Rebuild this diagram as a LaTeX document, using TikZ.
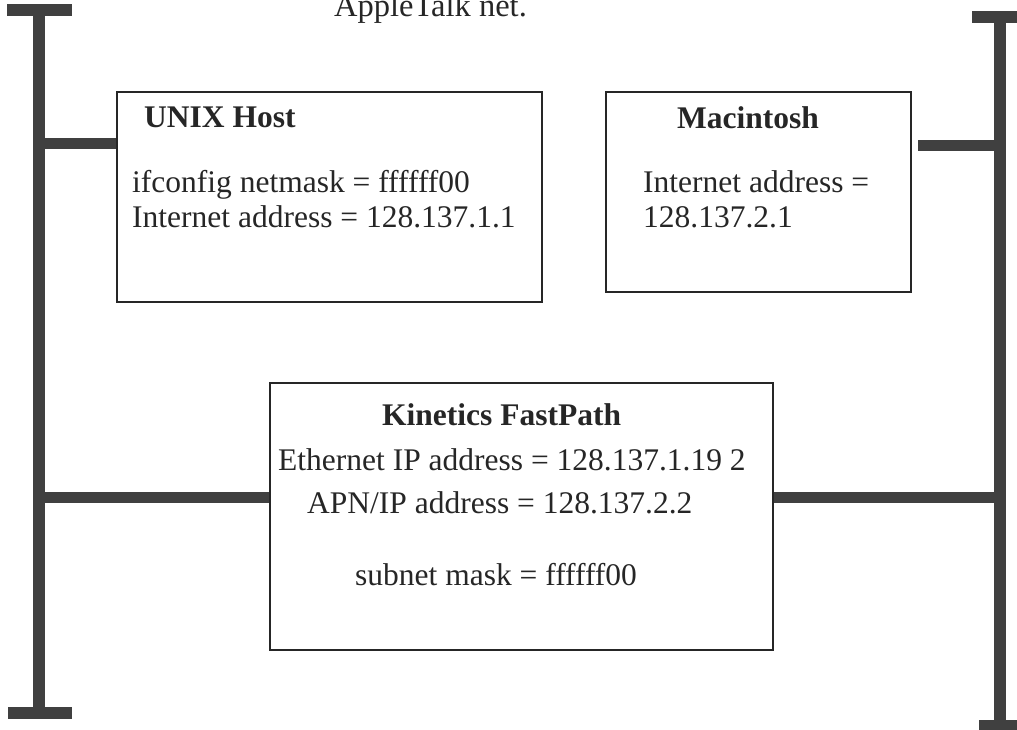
\documentclass[tikz,border=0pt]{standalone}
\usepackage{fontspec}
\setmainfont{Liberation Serif}
\begin{document}
\begin{tikzpicture}[x=1pt,y=-1pt,
  bus/.style={line width=12pt,draw=black!75},
  tap/.style={line width=11pt,draw=black!75},
  hostbox/.style={draw=black!85,line width=2pt,inner sep=0pt},
  txt/.style={anchor=base west,inner sep=0pt,text=black!85,font=\fontsize{31.5}{33}\selectfont},
  btxt/.style={txt,font=\fontsize{31.5}{33}\selectfont\bfseries}]
\useasboundingbox (0,0) rectangle (1017,730);
% bus end points
\coordinate (ltop) at (39,10);
\coordinate (lbot) at (39,713);
\coordinate (rtop) at (1000,17);
\coordinate (rbot) at (1000,726);
\coordinate (ltopL) at (7,10);  \coordinate (ltopR) at (72,10);
\coordinate (lbotL) at (8,713); \coordinate (lbotR) at (72,713);
\coordinate (rtopL) at (972,17); \coordinate (rtopR) at (1025,17);
\coordinate (rbotL) at (979,726); \coordinate (rbotR) at (1025,726);
% buses
\draw[bus] (ltop) -- (lbot);
\draw[bus] (ltopL) -- (ltopR);
\draw[bus] (lbotL) -- (lbotR);
\draw[bus] (rtop) -- (rbot);
\draw[bus] (rtopL) -- (rtopR);
\draw[bus] (rbotL) -- (rbotR);
% boxes
\node[hostbox,minimum width=425pt,minimum height=210pt] (unix) at (329.5,197) {};
\node[hostbox,minimum width=305pt,minimum height=200pt] (mac) at (758.5,192) {};
\node[hostbox,minimum width=503pt,minimum height=267pt] (fp) at (521.5,516.5) {};
% tap coordinates on buses
\coordinate (lt1) at (39,144);
\coordinate (rt1) at (1000,146);
\coordinate (lt2) at (39,497);
\coordinate (rt2) at (1000,497);
\coordinate (macTap) at (918,146);
\draw[tap] (lt1) -- (lt1 -| unix.west);
\draw[tap] (rt1) -- (macTap);
\draw[tap] (lt2) -- (lt2 -| fp.west);
\draw[tap] (rt2) -- (rt2 -| fp.east);
% texts
\node[txt,font=\fontsize{32.5}{34}\selectfont] (title) at (334,17) {AppleTalk net.};
\node[btxt] (unixT) at (144,128) {UNIX Host};
\node[txt] (unix1) at (132,193) {ifconfig netmask = ffffff00};
\node[txt] (unix2) at (132,228) {Internet address = 128.137.1.1};
\node[btxt] (macT) at (677,129) {Macintosh};
\node[txt] (mac1) at (643,193) {Internet address =};
\node[txt] (mac2) at (643,227) {128.137.2.1};
\node[btxt] (fpT) at (382,425) {Kinetics FastPath};
\node[txt] (fp1) at (278,470) {Ethernet IP address = 128.137.1.19 2};
\node[txt] (fp2) at (307,513) {APN/IP address = 128.137.2.2};
\node[txt] (fp3) at (355,585) {subnet mask = ffffff00};
\end{tikzpicture}
\end{document}
